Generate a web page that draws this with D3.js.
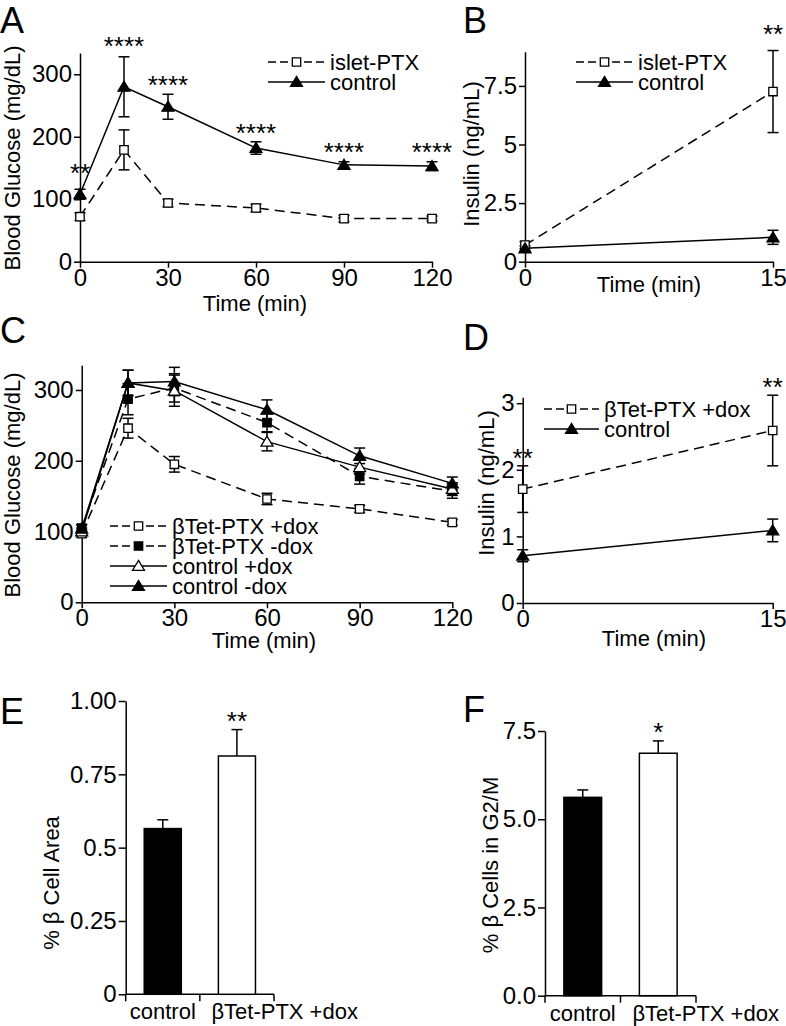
<!DOCTYPE html>
<html><head><meta charset="utf-8">
<script src="https://cdn.jsdelivr.net/npm/d3@7"></script>
<style>
html,body{margin:0;padding:0;background:#fff;}
svg text{font-family:"Liberation Sans",Arial,Helvetica,sans-serif;fill:#000;}
</style></head>
<body><svg id="c" width="786" height="1026"></svg>
<script>
// ---------------- DATA ----------------
// Panel A: blood glucose (mg/dL)
const timesA = [0, 15, 30, 60, 90, 120];
const aPtx = [72, 179, 94, 86, 69, 69];
const aPtxErr = [6, 32, 6, 6, 5, 4];
const aCtl = [108, 280, 248, 182, 155, 153];
const aCtlErr = [8, 48, 20, 10, 5, 7];
const aStars = ["**", "****", "****", "****", "****", "****"];
const aYTicks = [0, 100, 200, 300];
const aXTicks = [0, 30, 60, 90, 120];

// Panel B: insulin (ng/mL)
const timesB = [0, 15];
const bPtx = [0.71, 7.26];
const bPtxErr = [0.15, 1.75];
const bCtl = [0.57, 1.04];
const bCtlErr = [0.1, 0.3];
const bStars = ["", "**"];
const bYTicks = [0, 2.5, 5, 7.5];
const bYLabels = ["0", "2.5", "5", "7.5"];
const bXTicks = [0, 15];

// Panel C: blood glucose (mg/dL)
const timesC = [0, 15, 30, 60, 90, 120];
const cPtxDox = [97, 246, 195, 146, 132, 113];
const cPtxDoxErr = [5, 14, 11, 8, 5, 4];
const cPtxNoDox = [105, 287, 303, 254, 178, 157];
const cPtxNoDoxErr = [5, 22, 20, 13, 11, 10];
const cCtlDox = [100, 310, 299, 227, 191, 160];
const cCtlDoxErr = [5, 18, 22, 13, 10, 9];
const cCtlNoDox = [104, 310, 312, 272, 207, 168];
const cCtlNoDoxErr = [5, 18, 20, 14, 11, 9];
const cYTicks = [0, 100, 200, 300];
const cXTicks = [0, 30, 60, 90, 120];

// Panel D: insulin (ng/mL)
const timesD = [0, 15];
const dPtx = [1.71, 2.59];
const dPtxErr = [0.35, 0.53];
const dCtl = [0.71, 1.09];
const dCtlErr = [0.09, 0.17];
const dStars = ["**", "**"];
const dYTicks = [0, 1, 2, 3];
const dXTicks = [0, 15];

// Panel E / F: bars
const barCats = ["control", "βTet-PTX +dox"];
const eVals = [0.565, 0.8125];
const eErr = [0.03, 0.09];
const eStars = ["", "**"];
const eYTicks = [0, 0.25, 0.5, 0.75, 1.0];
const eYLabels = ["0", "0.25", "0.5", "0.75", "1.00"];
const fVals = [5.62, 6.87];
const fErr = [0.21, 0.35];
const fStars = ["", "*"];
const fYTicks = [0, 2.5, 5, 7.5];
const fYLabels = ["0.0", "2.5", "5.0", "7.5"];

// ---------------- DRAWING ----------------
const svg = d3.select("#c");
const FS = 22;     // titles, legends
const TFS = 24;    // tick labels
const SW = 1.5;

function styleAxis(g) {
  g.selectAll("path,line").attr("stroke", "#000").attr("stroke-width", 1.5);
  g.selectAll("text").attr("font-size", TFS).attr("fill", "#000")
    .attr("font-family", '"Liberation Sans",Arial,sans-serif');
}

function markerPath(type) {
  if (type.startsWith("tri")) return "M0,-5.6L6,4.4L-6,4.4Z";
  return "M-4.2,-4.2H4.2V4.2H-4.2Z";
}
function drawMarker(g, type, x, y) {
  const filled = type.endsWith("F");
  g.append("path").attr("d", markerPath(type))
    .attr("transform", `translate(${x},${y})`)
    .attr("fill", filled ? "#000" : "#fff")
    .attr("stroke", "#000").attr("stroke-width", 1.3);
}

function stars(g, text, cx, cy, size) {
  g.append("text").attr("x", cx).attr("y", cy + 0.57 * size)
    .attr("text-anchor", "middle").attr("font-size", size)
    .text(text);
}

function linePanel(p) {
  const g = svg.append("g");
  const x = d3.scaleLinear().domain(p.xDomain).range(p.xRange);
  const y = d3.scaleLinear().domain(p.yDomain).range(p.yRange);
  const ax = g.append("g").attr("transform", `translate(0,${p.yRange[0]})`)
    .call(d3.axisBottom(x).tickValues(p.xTicks).tickSize(6).tickPadding(1).tickSizeOuter(0));
  styleAxis(ax);
  const ay = g.append("g").attr("transform", `translate(${p.xRange[0]},0)`)
    .call(d3.axisLeft(y).tickValues(p.yTicks).tickSize(6).tickPadding(2).tickSizeOuter(0)
      .tickFormat((d, i) => p.yLabels ? p.yLabels[i] : d));
  styleAxis(ay);
  p.series.forEach(s => {
    const pts = p.times.map((t, i) => [x(t), y(s.vals[i])]);
    g.append("path").attr("d", d3.line()(pts)).attr("fill", "none")
      .attr("stroke", "#000").attr("stroke-width", SW)
      .attr("stroke-dasharray", s.dash ? "10,6" : null);
  });
  p.series.forEach(s => {
    p.times.forEach((t, i) => {
      const cx = x(t), v = s.vals[i], e = s.err[i];
      const y1 = y(v + e), y2 = y(v - e);
      g.append("line").attr("x1", cx).attr("x2", cx).attr("y1", y1).attr("y2", y2)
        .attr("stroke", "#000").attr("stroke-width", SW);
      [y1, y2].forEach(yy => g.append("line").attr("x1", cx - 5.5).attr("x2", cx + 5.5)
        .attr("y1", yy).attr("y2", yy).attr("stroke", "#000").attr("stroke-width", SW));
    });
  });
  p.series.forEach(s => {
    p.times.forEach((t, i) => drawMarker(g, s.marker, x(t), y(s.vals[i])));
  });
  if (p.stars) {
    p.stars.forEach((st, i) => {
      if (!st) return;
      const s = p.series[p.starSeries];
      stars(g, st, x(p.times[i]), y(s.vals[i] + s.err[i]) - p.starGap[i], 26);
    });
  }
  p.series.forEach((s, i) => {
    const ly = p.legend.y + i * p.legend.dy;
    g.append("line").attr("x1", p.legend.x1).attr("x2", p.legend.x2)
      .attr("y1", ly).attr("y2", ly).attr("stroke", "#000").attr("stroke-width", SW)
      .attr("stroke-dasharray", s.dash ? "8,4" : null);
    drawMarker(g, s.marker, (p.legend.x1 + p.legend.x2) / 2, ly);
    g.append("text").attr("x", p.legend.x2 + 5).attr("y", ly + 8)
      .attr("font-size", FS).text(s.name);
  });
  g.append("text").attr("text-anchor", "middle").attr("font-size", FS)
    .attr("x", p.xTitle[0]).attr("y", p.xTitle[1]).text("Time (min)");
  g.append("text").attr("text-anchor", "middle").attr("font-size", FS)
    .attr("transform", `translate(${p.yTitle[0]},${p.yTitle[1]}) rotate(-90)`).text(p.yTitleText);
  g.append("text").attr("x", p.letter[0]).attr("y", p.letter[1]).attr("font-size", 36).text(p.letterText);
}

linePanel({
  times: timesA, xDomain: [0, 120], xRange: [80, 432],
  yDomain: [0, 334], yRange: [261.7, 261.7 - 334 * 0.6247],
  xTicks: aXTicks, yTicks: aYTicks,
  series: [
    { name: "islet-PTX", vals: aPtx, err: aPtxErr, dash: true, marker: "sqO" },
    { name: "control", vals: aCtl, err: aCtlErr, dash: false, marker: "triF" }
  ],
  stars: aStars, starSeries: 1, starGap: [22, 17, 15, 15, 16, 16],
  legend: { x1: 268, x2: 325, y: 62, dy: 20 },
  xTitle: [255, 311], yTitle: [20, 158], yTitleText: "Blood Glucose (mg/dL)",
  letter: [0, 33], letterText: "A"
});

linePanel({
  times: timesB, xDomain: [0, 15], xRange: [525, 773],
  yDomain: [0, 8.96], yRange: [261.7, 51.7],
  xTicks: bXTicks, yTicks: bYTicks, yLabels: bYLabels,
  series: [
    { name: "islet-PTX", vals: bPtx, err: bPtxErr, dash: true, marker: "sqO" },
    { name: "control", vals: bCtl, err: bCtlErr, dash: false, marker: "triF" }
  ],
  stars: bStars, starSeries: 0, starGap: [0, 22],
  legend: { x1: 576, x2: 633, y: 62, dy: 20 },
  xTitle: [649, 292], yTitle: [479, 154], yTitleText: "Insulin (ng/mL)",
  letter: [463, 33], letterText: "B"
});

linePanel({
  times: timesC, xDomain: [0, 120], xRange: [81.7, 452.3],
  yDomain: [0, 335], yRange: [602.3, 602.3 - 335 * 0.7077],
  xTicks: cXTicks, yTicks: cYTicks,
  series: [
    { name: "βTet-PTX +dox", vals: cPtxDox, err: cPtxDoxErr, dash: true, marker: "sqO" },
    { name: "βTet-PTX -dox", vals: cPtxNoDox, err: cPtxNoDoxErr, dash: true, marker: "sqF" },
    { name: "control +dox", vals: cCtlDox, err: cCtlDoxErr, dash: false, marker: "triO" },
    { name: "control -dox", vals: cCtlNoDox, err: cCtlNoDoxErr, dash: false, marker: "triF" }
  ],
  legend: { x1: 110, x2: 167, y: 526, dy: 20 },
  xTitle: [264, 648], yTitle: [20, 485], yTitleText: "Blood Glucose (mg/dL)",
  letter: [0, 343], letterText: "C"
});

linePanel({
  times: timesD, xDomain: [0, 15], xRange: [522.7, 772.7],
  yDomain: [0, 3.09], yRange: [603, 603 - 3.09 * 66.6],
  xTicks: dXTicks, yTicks: dYTicks,
  series: [
    { name: "βTet-PTX +dox", vals: dPtx, err: dPtxErr, dash: true, marker: "sqO" },
    { name: "control", vals: dCtl, err: dCtlErr, dash: false, marker: "triF" }
  ],
  stars: dStars, starSeries: 0, starGap: [14, 14.5],
  legend: { x1: 544, x2: 599, y: 409, dy: 20 },
  xTitle: [654, 646], yTitle: [494, 483], yTitleText: "Insulin (ng/mL)",
  letter: [463, 350], letterText: "D"
});

function barPanel(p) {
  const g = svg.append("g");
  const x = d3.scaleBand().domain(barCats).range(p.xRange).paddingInner(0.5).paddingOuter(0.25);
  const y = d3.scaleLinear().domain(p.yDomain).range(p.yRange);
  const ay = g.append("g").attr("transform", `translate(${p.xRange[0]},0)`)
    .call(d3.axisLeft(y).tickValues(p.yTicks).tickSize(7).tickPadding(2).tickSizeOuter(0)
      .tickFormat((d, i) => p.yLabels[i]));
  styleAxis(ay);
  const base = p.yRange[0];
  const sepX = [p.xRange[0], (x(barCats[0]) + x.bandwidth() + x(barCats[1])) / 2, p.xRange[1]];
  g.append("line").attr("x1", p.xRange[0]).attr("x2", p.xRange[1]).attr("y1", base).attr("y2", base)
    .attr("stroke", "#000").attr("stroke-width", 1.5);
  sepX.forEach(sx => g.append("line").attr("x1", sx).attr("x2", sx).attr("y1", base).attr("y2", base + 7)
    .attr("stroke", "#000").attr("stroke-width", 1.5));
  barCats.forEach((c, i) => {
    const bx = x(c), bw = x.bandwidth(), top = y(p.vals[i]), et = y(p.vals[i] + p.err[i]);
    g.append("line").attr("x1", bx + bw / 2).attr("x2", bx + bw / 2).attr("y1", top).attr("y2", et)
      .attr("stroke", "#000").attr("stroke-width", SW);
    g.append("line").attr("x1", bx + bw / 2 - 5.5).attr("x2", bx + bw / 2 + 5.5).attr("y1", et).attr("y2", et)
      .attr("stroke", "#000").attr("stroke-width", SW);
    g.append("rect").attr("x", bx).attr("y", top).attr("width", bw).attr("height", base - top)
      .attr("fill", i === 0 ? "#000" : "#fff").attr("stroke", "#000").attr("stroke-width", 1.5);
    if (p.stars[i]) stars(g, p.stars[i], bx + bw / 2, et - 14.5, 26);
  });
  g.append("text").attr("x", x(barCats[0]) + x.bandwidth() / 2).attr("y", base + 25)
    .attr("text-anchor", "middle").attr("font-size", FS).text(barCats[0]);
  g.append("text").attr("x", x(barCats[1]) - 7).attr("y", base + 25)
    .attr("text-anchor", "start").attr("font-size", FS).text(barCats[1]);
  g.append("text").attr("text-anchor", "middle").attr("font-size", FS)
    .attr("transform", `translate(${p.yTitle[0]},${p.yTitle[1]}) rotate(-90)`).text(p.yTitleText);
  g.append("text").attr("x", p.letter[0]).attr("y", p.letter[1]).attr("font-size", 36).text(p.letterText);
}

barPanel({
  xRange: [125.7, 274], yDomain: [0, 1], yRange: [994.3, 701],
  yTicks: eYTicks, yLabels: eYLabels, vals: eVals, err: eErr, stars: eStars,
  yTitle: [59, 883], yTitleText: "% β Cell Area",
  letter: [0, 724], letterText: "E"
});
barPanel({
  xRange: [545, 696], yDomain: [0, 7.5], yRange: [995.7, 731],
  yTicks: fYTicks, yLabels: fYLabels, vals: fVals, err: fErr, stars: fStars,
  yTitle: [498, 865], yTitleText: "% β Cells in G2/M",
  letter: [463, 722], letterText: "F"
});
</script></body></html>
